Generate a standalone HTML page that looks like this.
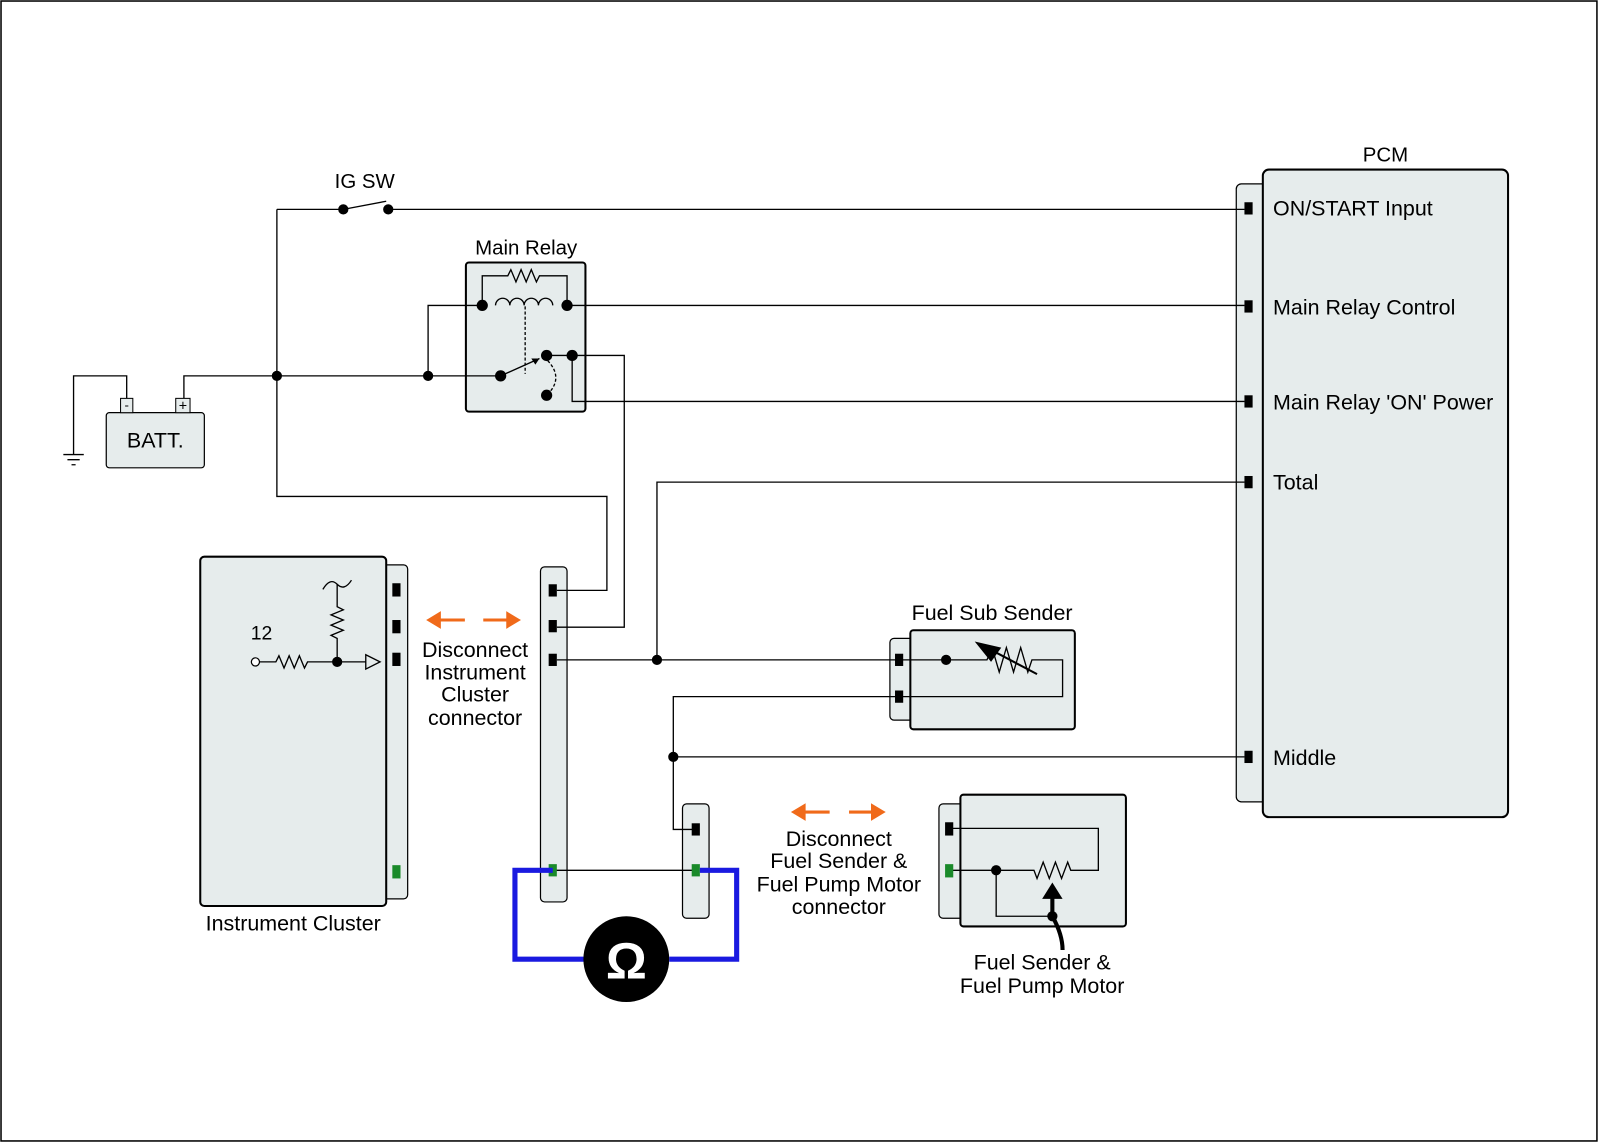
<!DOCTYPE html>
<html><head><meta charset="utf-8"><style>html,body{margin:0;padding:0;background:#fff}svg{display:block}text{font-family:"Liberation Sans",sans-serif;fill:#000}</style></head>
<body>
<svg width="1600" height="1143" viewBox="0 0 1566 1119" preserveAspectRatio="none" xmlns="http://www.w3.org/2000/svg">
<rect x="1" y="1" width="1562" height="1116" fill="#fff" stroke="#000" stroke-width="1.5"/>
<g fill="#e6ecec" stroke="#000">
<rect x="1210" y="180" width="30" height="605" rx="5" stroke-width="1.2"/>
<rect x="1236" y="166" width="240" height="634" rx="6" stroke-width="2"/>
<rect x="456" y="257" width="117" height="146" rx="3" stroke-width="2"/>
<rect x="104" y="404" width="96" height="54" rx="3" stroke-width="1.2"/>
<rect x="118" y="390" width="12" height="14" stroke-width="1"/>
<rect x="172" y="390" width="14" height="14" stroke-width="1"/>
<rect x="374" y="553" width="25" height="327" rx="4" stroke-width="1.2"/>
<rect x="196" y="545" width="182" height="342" rx="4" stroke-width="2"/>
<rect x="529" y="555" width="26" height="328" rx="4" stroke-width="1.2"/>
<rect x="668" y="787" width="26" height="112" rx="4" stroke-width="1.2"/>
<rect x="871" y="625" width="24" height="80" rx="4" stroke-width="1.2"/>
<rect x="891" y="617" width="161" height="97" rx="3" stroke-width="2"/>
<rect x="919" y="787" width="25" height="112" rx="4" stroke-width="1.2"/>
<rect x="940" y="778" width="162" height="129" rx="3" stroke-width="2"/>
</g>
<g font-size="21">
<text x="1356" y="158" text-anchor="middle" font-size="20">PCM</text>
<text x="1246" y="211">ON/START Input</text>
<text x="1246" y="308">Main Relay Control</text>
<text x="1246" y="401">Main Relay 'ON' Power</text>
<text x="1246" y="479">Total</text>
<text x="1246" y="749">Middle</text>
<text x="357" y="184" text-anchor="middle" font-size="20">IG SW</text>
<text x="515" y="249" text-anchor="middle" font-size="20">Main Relay</text>
<text x="152" y="438" text-anchor="middle">BATT.</text>
<text x="287" y="911" text-anchor="middle">Instrument Cluster</text>
<text x="256" y="626" text-anchor="middle" font-size="19">12</text>
<text x="971" y="607" text-anchor="middle">Fuel Sub Sender</text>
<g text-anchor="middle">
<text x="465" y="643">Disconnect</text><text x="465" y="665">Instrument</text><text x="465" y="687">Cluster</text><text x="465" y="710">connector</text>
<text x="821" y="828">Disconnect</text><text x="821" y="850">Fuel Sender &amp;</text><text x="821" y="873">Fuel Pump Motor</text><text x="821" y="895">connector</text>
<text x="1020" y="949">Fuel Sender &amp;</text><text x="1020" y="972">Fuel Pump Motor</text>
</g>
<text x="124" y="401" text-anchor="middle" font-size="13">-</text>
<text x="179" y="402" text-anchor="middle" font-size="14">+</text>
</g>
<g fill="none" stroke="#000" stroke-width="1.3">
<path d="M271 205H336M380 205H1218M271 205V486H594V578H545"/>
<path d="M336 205L378 197"/>
<path d="M124 390V368H72V445M62 445H82M66 450H78M70 455H74"/>
<path d="M180 390V368H490"/>
<path d="M419 368V299H472M555 299H1218"/>
<path d="M472 299V270H497l3-6 5 12 5-12 5 12 5-12 5 12 3-6H555V299"/>
<path d="M485 299a7 7 0 0 1 14 0a7 7 0 0 1 14 0a7 7 0 0 1 14 0a7 7 0 0 1 14 0"/>
<path d="M514 300V366" stroke-dasharray="3 2"/>
<path d="M490 368L528 351"/>
<path d="M536 353Q552 370 536 386" stroke-dasharray="3 2"/>
<path d="M535 348H611V614H545M560 348V393H1218"/>
<path d="M1218 472H643V646M545 646H880"/>
<path d="M880 646H966l5-12 7 24 7-24 7 24 7-24 7 24 4-12H1040V682H880M880 682H659V812H680M659 741H1218"/>
<path d="M541 852H681"/>
<path d="M254 648H270l3-6 5 12 5-12 5 12 5-12 5 12 3-6H330H358M330 648V625l-6-3 12-5-12-5 12-5-12-5 12-5-6-3V572"/>
<path d="M316 577q7-12 14-5t14-4"/>
<path d="M358 641L372 648L358 655Z"/>
<path d="M1015 660L962 632" stroke-width="2"/>
<path d="M929 811H1075V852H1048l-3-8-6 16-6-16-6 16-6-16-6 16-3-8H929M975 852V897H1030"/>
<path d="M1040 930Q1040 915 1030 897V878" stroke-width="4"/>
</g>
<path d="M954 628L980 634L970 648Z" fill="#000"/>
<path d="M1020 880L1030 864L1040 880Z" fill="#000"/>
<path d="M528 351l-8 0l4 6z" fill="#000"/>
<circle cx="250" cy="648" r="4" fill="#fff" stroke="#000" stroke-width="1.2"/>
<g fill="#000">
<circle cx="336" cy="205" r="5"/><circle cx="380" cy="205" r="5"/>
<circle cx="271" cy="368" r="5"/><circle cx="419" cy="368" r="5"/>
<circle cx="472" cy="299" r="5.5"/><circle cx="555" cy="299" r="5.5"/>
<circle cx="490" cy="368" r="5.5"/><circle cx="535" cy="348" r="5.5"/><circle cx="560" cy="348" r="5.5"/><circle cx="535" cy="387" r="5.5"/>
<circle cx="330" cy="648" r="5"/><circle cx="643" cy="646" r="5"/><circle cx="659" cy="741" r="5"/>
<circle cx="926" cy="646" r="5"/><circle cx="975" cy="852" r="5"/><circle cx="1030" cy="897" r="5"/>
<rect x="1218" y="198" width="8" height="12"/><rect x="1218" y="294" width="8" height="12"/><rect x="1218" y="387" width="8" height="12"/><rect x="1218" y="466" width="8" height="12"/><rect x="1218" y="735" width="8" height="12"/>
<rect x="384" y="571" width="8" height="13"/><rect x="384" y="607" width="8" height="13"/><rect x="384" y="639" width="8" height="13"/>
<rect x="537" y="572" width="8" height="12"/><rect x="537" y="607" width="8" height="12"/><rect x="537" y="640" width="8" height="12"/>
<rect x="876" y="640" width="8" height="12"/><rect x="876" y="676" width="8" height="12"/>
<rect x="677" y="806" width="8" height="12"/><rect x="925" y="805" width="8" height="13"/>
</g>
<g fill="#1a8a2a"><rect x="384" y="847" width="8" height="13"/><rect x="537" y="846" width="8" height="12"/><rect x="677" y="846" width="8" height="12"/><rect x="925" y="846" width="8" height="13"/></g>
<path d="M541 852H504V939H572M655 939H721V852H685" fill="none" stroke="#1a1ae0" stroke-width="5"/>
<circle cx="613" cy="939" r="42" fill="#000"/>
<text x="613" y="958" text-anchor="middle" font-size="50" font-weight="bold" style="fill:#fff">Ω</text>
<g stroke="#f06a1a" stroke-width="3" fill="#f06a1a">
<path d="M428 607H455M473 607H500M785 795H812M831 795H856"/>
<path d="M420 607l10-6v12zM507 607l-10-6v12zM777 795l10-6v12zM864 795l-10-6v12z"/>
</g>
</svg>
</body></html>
